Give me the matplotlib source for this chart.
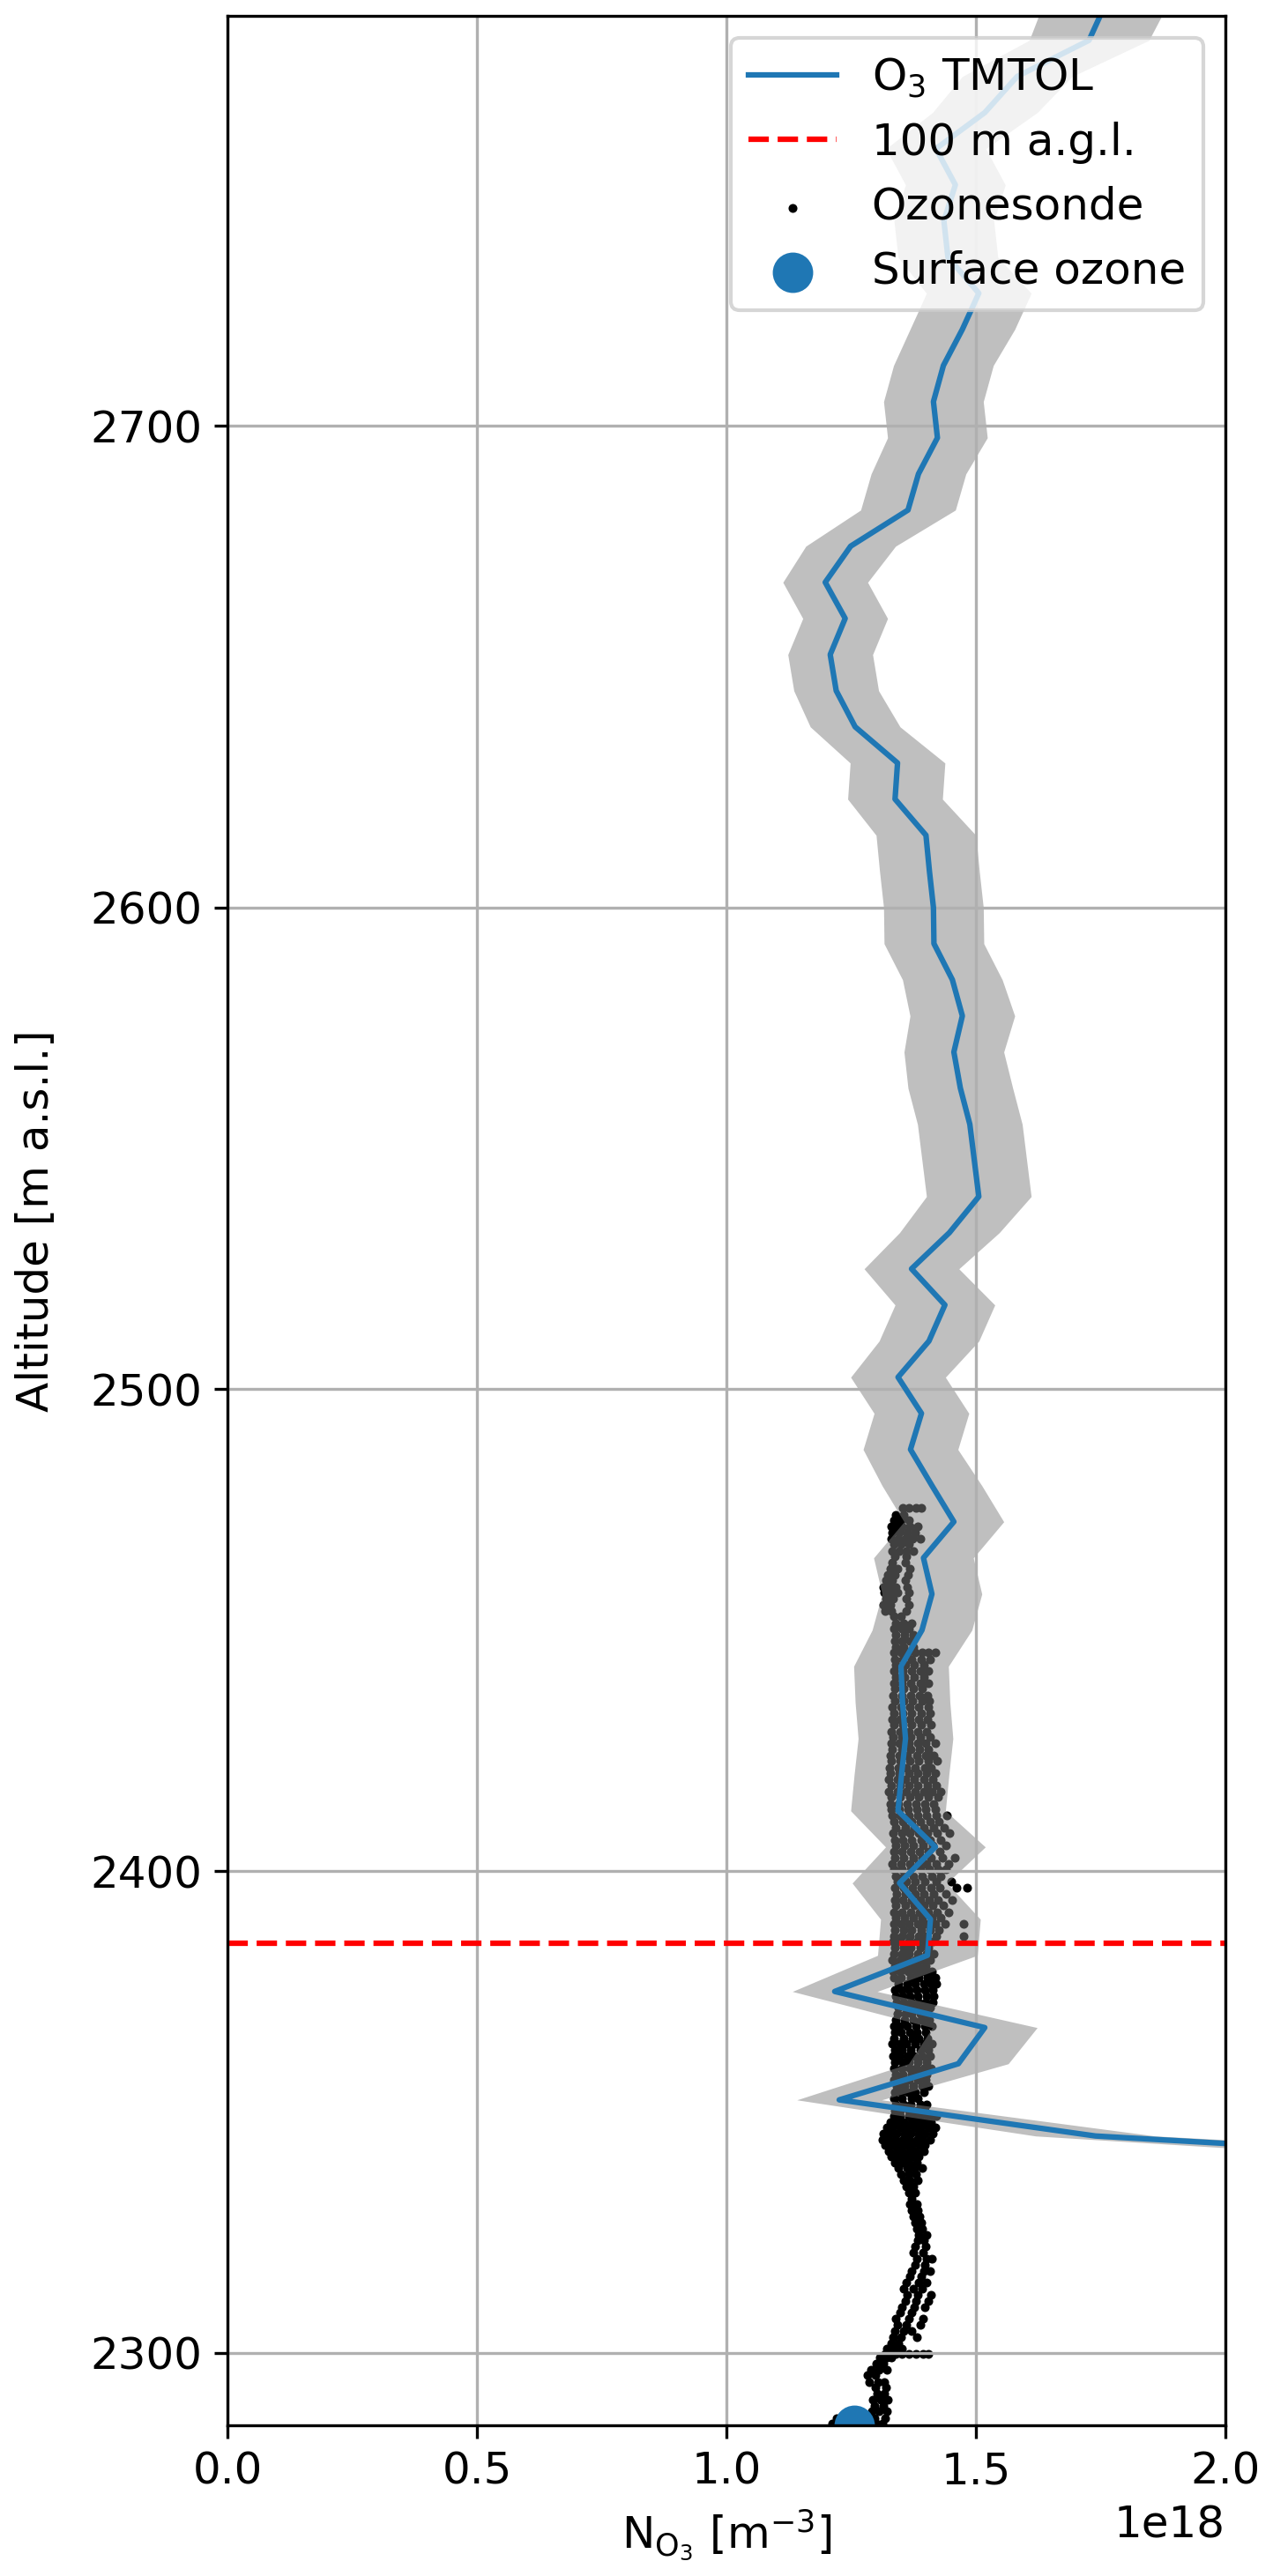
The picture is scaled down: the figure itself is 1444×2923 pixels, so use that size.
import numpy as np
import matplotlib
matplotlib.use("Agg")
import matplotlib.pyplot as plt

plt.rcParams['font.size'] = 12

# TMTOL ozone profile (number density in 1e18 m^-3) and its uncertainty
tmtol_alt = [2337.5, 2345.0, 2352.5, 2360.0, 2367.5, 2375.0, 2382.5, 2390.0, 2397.5, 2405.0,
             2412.5, 2420.0, 2427.5, 2435.0, 2442.5, 2450.0, 2457.5, 2465.0, 2472.5, 2480.0,
             2487.5, 2495.0, 2502.5, 2510.0, 2517.5, 2525.0, 2532.5, 2540.0, 2547.5, 2555.0,
             2562.5, 2570.0, 2577.5, 2585.0, 2592.5, 2600.0, 2607.5, 2615.0, 2622.5, 2630.0,
             2637.5, 2645.0, 2652.5, 2660.0, 2667.5, 2675.0, 2682.5, 2690.0, 2697.5, 2705.0,
             2712.5, 2720.0, 2727.5, 2735.0, 2742.5, 2750.0, 2757.5, 2765.0, 2772.5, 2780.0,
             2787.5]
tmtol_val = [3.000, 1.740, 1.226, 1.465, 1.518, 1.217, 1.403, 1.409, 1.347, 1.419,
             1.344, 1.351, 1.359, 1.353, 1.350, 1.392, 1.412, 1.395, 1.456, 1.412,
             1.369, 1.391, 1.344, 1.406, 1.438, 1.371, 1.447, 1.506, 1.497, 1.488,
             1.469, 1.456, 1.473, 1.453, 1.416, 1.415, 1.407, 1.400, 1.338, 1.343,
             1.258, 1.220, 1.208, 1.238, 1.198, 1.249, 1.364, 1.385, 1.423, 1.415,
             1.435, 1.473, 1.506, 1.444, 1.436, 1.459, 1.420, 1.518, 1.583, 1.727,
             1.760]
tmtol_err = [0.210, 0.120, 0.085, 0.100, 0.105, 0.085, 0.100, 0.100, 0.095, 0.100,
             0.095, 0.095, 0.095, 0.095, 0.095, 0.100, 0.100, 0.100, 0.100, 0.100,
             0.095, 0.095, 0.095, 0.100, 0.100, 0.095, 0.100, 0.105, 0.105, 0.105,
             0.105, 0.100, 0.105, 0.100, 0.100, 0.100, 0.100, 0.100, 0.095, 0.095,
             0.090, 0.085, 0.085, 0.085, 0.085, 0.090, 0.095, 0.095, 0.100, 0.100,
             0.100, 0.105, 0.105, 0.100, 0.100, 0.100, 0.100, 0.105, 0.110, 0.120,
             0.125]

# ozonesonde samples: one altitude per row, several readings per row (1e18 m^-3)
sonde_alt = [2285.3, 2286.5, 2287.8, 2289.0, 2290.3, 2291.5, 2292.8, 2294.0, 2295.3, 2296.5,
             2297.8, 2299.0, 2299.8,
             2300.8, 2302.0, 2303.3, 2304.5, 2305.8, 2307.0, 2308.3, 2309.5, 2310.8, 2312.0,
             2313.3, 2314.5, 2315.8, 2317.0, 2318.3, 2319.5, 2320.8, 2322.0, 2323.3, 2324.5,
             2325.8, 2327.0, 2328.3, 2329.5, 2330.8, 2332.0, 2333.3, 2334.5, 2335.8, 2337.0,
             2338.3,
             2339.5, 2340.7, 2341.9, 2343.1, 2344.3, 2345.5, 2346.7, 2347.9, 2349.1,
             2350.3, 2351.6, 2352.8, 2354.1, 2355.3, 2356.6, 2357.8, 2359.1, 2360.3, 2361.6,
             2362.8, 2364.1, 2365.3, 2366.6, 2367.8, 2369.1, 2370.3, 2371.6, 2372.8, 2374.1,
             2375.3, 2376.6, 2377.8, 2379.1, 2380.3, 2381.6, 2382.8, 2384.1, 2385.3,
             2386.5, 2387.8, 2389.0, 2390.3, 2391.5, 2392.8, 2394.0, 2395.3, 2396.5, 2397.8,
             2399.0,
             2400.3, 2401.5, 2402.8, 2404.0, 2405.3, 2406.5, 2407.8, 2409.0, 2410.3, 2411.5,
             2412.8,
             2414.0, 2415.3, 2416.5, 2417.8, 2419.0, 2420.3, 2421.5, 2422.8, 2424.0, 2425.3,
             2426.5, 2427.8, 2429.0, 2430.3, 2431.5, 2432.8, 2434.0,
             2435.3, 2436.5, 2437.8, 2439.0, 2440.3, 2441.5, 2442.8, 2444.0, 2445.3, 2446.5,
             2447.8, 2449.0, 2450.3, 2451.5, 2452.8,
             2454.0, 2455.3, 2456.5, 2457.8, 2459.0, 2460.3, 2461.5, 2462.8, 2464.0, 2465.3,
             2466.5, 2467.8, 2469.0, 2470.3, 2471.5, 2472.8, 2474.0, 2475.3]
sonde_vals = [
    [1.212, 1.300, 1.312], [1.220, 1.296, 1.318], [1.291, 1.306, 1.322], [1.297, 1.314],
    [1.294, 1.309, 1.324], [1.303, 1.317], [1.299, 1.320], [1.286, 1.304, 1.316],
    [1.282, 1.298], [1.289, 1.306, 1.321], [1.300, 1.314], [1.308, 1.322, 1.330],
    [1.318, 1.328, 1.340, 1.352, 1.366, 1.380, 1.394, 1.405],
    [1.322, 1.336, 1.352], [1.330, 1.345], [1.334, 1.350, 1.382], [1.338, 1.356, 1.372],
    [1.343, 1.360, 1.388], [1.340, 1.366, 1.394], [1.348, 1.371], [1.352, 1.376, 1.398],
    [1.358, 1.380, 1.405], [1.362, 1.384, 1.410], [1.355, 1.375, 1.392],
    [1.360, 1.386, 1.402], [1.368, 1.390], [1.372, 1.395, 1.408], [1.378, 1.398],
    [1.381, 1.402, 1.411], [1.375, 1.394], [1.379, 1.399], [1.383, 1.396], [1.386, 1.401],
    [1.382, 1.393], [1.378, 1.390], [1.374, 1.387], [1.371, 1.384], [1.368, 1.381],
    [1.372], [1.366, 1.379], [1.360, 1.374], [1.355, 1.368, 1.383], [1.350, 1.366, 1.380],
    [1.345, 1.362, 1.377, 1.392],
    [1.338, 1.353, 1.365, 1.381], [1.330, 1.345, 1.359, 1.373, 1.386],
    [1.326, 1.341, 1.352, 1.368, 1.380, 1.395],
    [1.318, 1.332, 1.344, 1.359, 1.371, 1.387, 1.398],
    [1.312, 1.326, 1.339, 1.354, 1.365, 1.381, 1.392, 1.408],
    [1.315, 1.329, 1.341, 1.357, 1.369, 1.385, 1.397, 1.413],
    [1.321, 1.333, 1.349, 1.361, 1.377, 1.389, 1.405, 1.418],
    [1.328, 1.343, 1.355, 1.371, 1.383, 1.399, 1.410],
    [1.336, 1.349, 1.365, 1.377, 1.393, 1.404, 1.420],
    [1.337, 1.349, 1.366, 1.381, 1.398], [1.340, 1.355, 1.369, 1.388, 1.402],
    [1.336, 1.352, 1.371, 1.384], [1.338, 1.350, 1.364, 1.379, 1.396],
    [1.341, 1.357, 1.375, 1.392, 1.405], [1.336, 1.348, 1.366, 1.383, 1.399],
    [1.339, 1.353, 1.372, 1.387, 1.401], [1.335, 1.351, 1.368, 1.380, 1.396, 1.410],
    [1.338, 1.354, 1.365, 1.384, 1.402], [1.334, 1.347, 1.362, 1.377, 1.393, 1.408],
    [1.337, 1.352, 1.370, 1.389, 1.404], [1.333, 1.349, 1.361, 1.378, 1.395, 1.411],
    [1.336, 1.355, 1.373, 1.386, 1.403], [1.338, 1.350, 1.367, 1.382, 1.399],
    [1.335, 1.346, 1.363, 1.380, 1.397, 1.412], [1.340, 1.357, 1.374, 1.390, 1.406],
    [1.342, 1.358, 1.371, 1.388, 1.401], [1.345, 1.360, 1.377, 1.393, 1.408],
    [1.341, 1.356, 1.372, 1.385, 1.399, 1.413], [1.339, 1.353, 1.368, 1.384, 1.402, 1.416],
    [1.337, 1.351, 1.366, 1.381, 1.398, 1.414], [1.345, 1.362, 1.378, 1.395, 1.410, 1.420],
    [1.336, 1.350, 1.369, 1.386, 1.403, 1.418], [1.334, 1.349, 1.364, 1.380, 1.396, 1.412],
    [1.337, 1.352, 1.368, 1.383, 1.400], [1.333, 1.348, 1.363, 1.379, 1.394, 1.409],
    [1.336, 1.351, 1.366, 1.384, 1.401, 1.416], [1.338, 1.355, 1.370, 1.388, 1.404],
    [1.334, 1.349, 1.365, 1.381, 1.397, 1.413],
    [1.336, 1.351, 1.368, 1.386, 1.402, 1.420, 1.476],
    [1.338, 1.355, 1.372, 1.390, 1.408, 1.426],
    [1.335, 1.350, 1.366, 1.384, 1.400, 1.418, 1.438, 1.476],
    [1.339, 1.357, 1.375, 1.393, 1.411, 1.430],
    [1.336, 1.352, 1.369, 1.387, 1.404, 1.423, 1.446],
    [1.340, 1.358, 1.377, 1.395, 1.414, 1.434],
    [1.337, 1.354, 1.371, 1.389, 1.407, 1.425, 1.452],
    [1.341, 1.359, 1.378, 1.396, 1.416, 1.440],
    [1.338, 1.355, 1.373, 1.391, 1.410, 1.428, 1.462, 1.482],
    [1.342, 1.360, 1.379, 1.398, 1.420, 1.450],
    [1.339, 1.356, 1.374, 1.393, 1.412, 1.430],
    [1.336, 1.352, 1.370, 1.388, 1.406, 1.425, 1.440],
    [1.333, 1.350, 1.367, 1.385, 1.402, 1.421, 1.445],
    [1.338, 1.356, 1.374, 1.392, 1.410, 1.433, 1.458],
    [1.335, 1.352, 1.369, 1.387, 1.405, 1.427],
    [1.340, 1.357, 1.375, 1.394, 1.414, 1.440],
    [1.337, 1.354, 1.372, 1.390, 1.409, 1.430],
    [1.334, 1.351, 1.368, 1.386, 1.403, 1.422, 1.448],
    [1.339, 1.358, 1.377, 1.396, 1.416, 1.436],
    [1.336, 1.353, 1.371, 1.389, 1.408, 1.426],
    [1.333, 1.349, 1.366, 1.384, 1.402, 1.420, 1.441],
    [1.330, 1.347, 1.364, 1.382, 1.400, 1.418],
    [1.328, 1.345, 1.362, 1.380, 1.398, 1.415], [1.331, 1.349, 1.367, 1.386, 1.405, 1.424],
    [1.326, 1.343, 1.360, 1.378, 1.396, 1.412, 1.429],
    [1.330, 1.348, 1.366, 1.384, 1.403, 1.421], [1.325, 1.342, 1.359, 1.377, 1.395, 1.413],
    [1.329, 1.347, 1.365, 1.383, 1.401, 1.418], [1.327, 1.344, 1.361, 1.379, 1.397, 1.410],
    [1.331, 1.349, 1.367, 1.385, 1.404, 1.423], [1.329, 1.346, 1.363, 1.381, 1.399, 1.416],
    [1.333, 1.351, 1.369, 1.387, 1.405], [1.330, 1.347, 1.365, 1.383, 1.400, 1.418],
    [1.334, 1.352, 1.370, 1.389, 1.408], [1.331, 1.348, 1.366, 1.384, 1.401],
    [1.335, 1.353, 1.371, 1.390, 1.410], [1.332, 1.349, 1.367, 1.385, 1.403],
    [1.336, 1.354, 1.372, 1.391, 1.409], [1.333, 1.350, 1.368, 1.386, 1.404],
    [1.337, 1.355, 1.373, 1.392, 1.406], [1.334, 1.351, 1.369, 1.387, 1.403],
    [1.338, 1.356, 1.374, 1.393], [1.335, 1.352, 1.370, 1.388, 1.405],
    [1.339, 1.357, 1.376, 1.395], [1.336, 1.353, 1.371, 1.389, 1.404],
    [1.340, 1.358, 1.377, 1.396], [1.337, 1.354, 1.372, 1.390, 1.408],
    [1.336, 1.350, 1.364, 1.378, 1.392, 1.405, 1.418], [1.339, 1.356, 1.374],
    [1.337, 1.352, 1.368], [1.340, 1.357, 1.374], [1.336, 1.351, 1.366],
    [1.339, 1.355, 1.372], [1.336, 1.350],
    [1.318, 1.330, 1.361], [1.315, 1.328, 1.365], [1.320, 1.334, 1.360],
    [1.317, 1.331, 1.343, 1.366], [1.315, 1.327, 1.340, 1.362], [1.319, 1.333, 1.358],
    [1.323, 1.338, 1.364], [1.328, 1.342, 1.368], [1.333, 1.358], [1.338, 1.360],
    [1.332, 1.346, 1.360, 1.374], [1.335, 1.350, 1.365],
    [1.330, 1.344, 1.359, 1.373, 1.388], [1.333, 1.347, 1.362, 1.378],
    [1.331, 1.339, 1.352, 1.367, 1.383], [1.336, 1.350, 1.366], [1.340, 1.355],
    [1.353, 1.366, 1.380, 1.391],
]

surface_alt = 2285.0
surface_val = 1.256
agl100_alt = 2385.0

scale = 1e18
t_alt = np.array(tmtol_alt)
t_val = np.array(tmtol_val) * scale
t_err = np.array(tmtol_err) * scale

s_alt = np.repeat(sonde_alt, [len(v) for v in sonde_vals])
s_val = np.concatenate([np.array(v) for v in sonde_vals]) * scale

fig = plt.figure(figsize=(1444 / 300, 2923 / 300), dpi=300)
ax = fig.add_axes([0.179, 0.0586, 0.9624 - 0.179, 0.9937 - 0.0586])

h_sonde = ax.scatter(s_val, s_alt, s=2, color='black', label='Ozonesonde')
ax.fill_betweenx(t_alt, t_val - t_err, t_val + t_err, color='gray', alpha=0.5, linewidth=0)
h_line, = ax.plot(t_val, t_alt, color='C0', label='O$_3$ TMTOL')
h_agl = ax.axhline(agl100_alt, color='red', linestyle='--', label='100 m a.g.l.')
h_surf = ax.scatter([surface_val * scale], [surface_alt], s=100, color='C0', label='Surface ozone')

ax.set_xlim(0, 2.0e18)
ax.set_ylim(2285, 2785)
ax.set_xlabel(r'N$_{\mathrm{O_3}}$ [m$^{-3}$]')
ax.set_ylabel('Altitude [m a.s.l.]', labelpad=9)
ax.grid(True)
ax.legend(handles=[h_line, h_agl, h_sonde, h_surf], loc='upper right', markerscale=1)

fig.savefig('out.png', dpi=300)
